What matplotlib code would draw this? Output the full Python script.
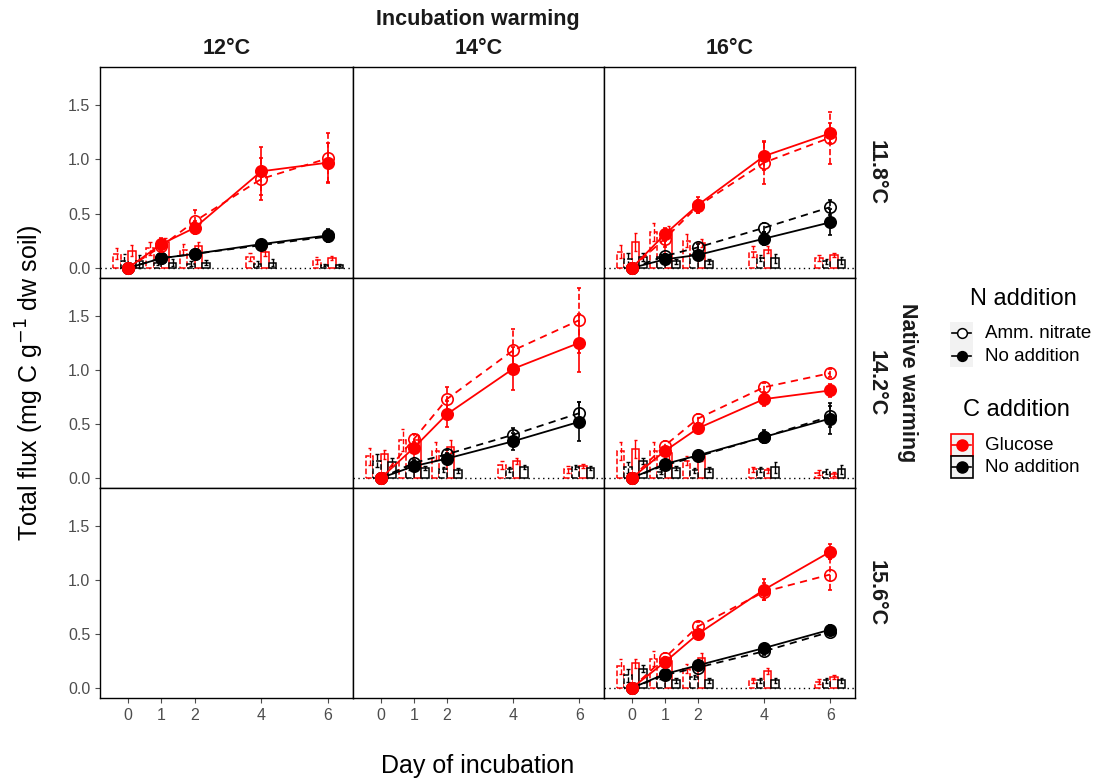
import matplotlib
matplotlib.use("Agg")
import matplotlib.pyplot as plt
from matplotlib.patches import Rectangle

plt.rcParams['font.family'] = ['Liberation Sans', 'DejaVu Sans']

# ---------------- data ----------------
days = [0, 1, 2, 4, 6]
day_labels = ["0", "1", "2", "4", "6"]
incubation = ["12°C", "14°C", "16°C"]
native = ["11.8°C", "14.2°C", "15.6°C"]
series_names = ["Glucose + Amm. nitrate", "Glucose", "Amm. nitrate", "No addition"]

# cumulative flux, order: [Glucose+N, Glucose, N only, control]
r0c0_mean = [[0, 0.20, 0.43, 0.82, 1.01], [0, 0.22, 0.37, 0.89, 0.97],
             [0, 0.09, 0.13, 0.21, 0.29], [0, 0.09, 0.13, 0.22, 0.30]]
r0c0_err = [[0.02, 0.05, 0.10, 0.19, 0.23], [0.02, 0.06, 0.06, 0.22, 0.18],
            [0.01, 0.02, 0.02, 0.03, 0.05], [0.01, 0.02, 0.02, 0.04, 0.06]]
r0c0_bar = [[0.13, 0.18, 0.17, 0.10, 0.07], [0.16, 0.24, 0.20, 0.15, 0.09],
            [0.06, 0.05, 0.04, 0.04, 0.03], [0.06, 0.05, 0.05, 0.05, 0.03]]
r0c0_barerr = [[0.05, 0.06, 0.05, 0.04, 0.03], [0.05, 0.04, 0.04, 0.04, 0.02],
               [0.07, 0.02, 0.02, 0.02, 0.01], [0.06, 0.03, 0.02, 0.03, 0.01]]

r0c2_mean = [[0, 0.27, 0.57, 0.97, 1.20], [0, 0.31, 0.58, 1.03, 1.24],
             [0, 0.11, 0.19, 0.37, 0.56], [0, 0.08, 0.12, 0.27, 0.42]]
r0c2_err = [[0.02, 0.08, 0.06, 0.20, 0.24], [0.02, 0.06, 0.07, 0.13, 0.09],
            [0.01, 0.02, 0.03, 0.04, 0.07], [0.01, 0.02, 0.02, 0.06, 0.12]]
r0c2_bar = [[0.15, 0.33, 0.25, 0.15, 0.09], [0.24, 0.35, 0.23, 0.17, 0.12],
            [0.08, 0.10, 0.12, 0.09, 0.06], [0.10, 0.06, 0.06, 0.09, 0.07]]
r0c2_barerr = [[0.06, 0.08, 0.06, 0.05, 0.03], [0.08, 0.04, 0.04, 0.03, 0.02],
               [0.06, 0.03, 0.03, 0.03, 0.02], [0.04, 0.02, 0.02, 0.04, 0.03]]

r1c1_mean = [[0, 0.36, 0.73, 1.18, 1.46], [0, 0.28, 0.59, 1.01, 1.25],
             [0, 0.14, 0.22, 0.40, 0.60], [0, 0.11, 0.18, 0.34, 0.52]]
r1c1_err = [[0.02, 0.05, 0.11, 0.20, 0.30], [0.02, 0.05, 0.12, 0.20, 0.27],
            [0.01, 0.03, 0.04, 0.06, 0.10], [0.01, 0.03, 0.05, 0.08, 0.18]]
r1c1_bar = [[0.20, 0.35, 0.25, 0.12, 0.08], [0.22, 0.35, 0.29, 0.16, 0.11],
            [0.16, 0.10, 0.08, 0.08, 0.10], [0.15, 0.09, 0.07, 0.10, 0.09]]
r1c1_barerr = [[0.08, 0.10, 0.08, 0.04, 0.03], [0.04, 0.05, 0.06, 0.03, 0.02],
               [0.06, 0.03, 0.02, 0.02, 0.02], [0.04, 0.02, 0.02, 0.02, 0.02]]

r1c2_mean = [[0, 0.30, 0.55, 0.84, 0.97], [0, 0.25, 0.46, 0.73, 0.81],
             [0, 0.12, 0.20, 0.38, 0.57], [0, 0.13, 0.21, 0.38, 0.55]]
r1c2_err = [[0.02, 0.04, 0.04, 0.04, 0.04], [0.02, 0.04, 0.03, 0.06, 0.06],
            [0.01, 0.02, 0.02, 0.05, 0.10], [0.01, 0.02, 0.02, 0.06, 0.14]]
r1c2_bar = [[0.25, 0.25, 0.16, 0.08, 0.05], [0.27, 0.23, 0.20, 0.07, 0.04],
            [0.10, 0.06, 0.07, 0.08, 0.06], [0.16, 0.09, 0.08, 0.10, 0.08]]
r1c2_barerr = [[0.08, 0.08, 0.04, 0.02, 0.02], [0.08, 0.06, 0.04, 0.02, 0.02],
               [0.05, 0.02, 0.02, 0.02, 0.02], [0.03, 0.02, 0.02, 0.05, 0.04]]

r2c2_mean = [[0, 0.28, 0.57, 0.89, 1.05], [0, 0.24, 0.50, 0.91, 1.26],
             [0, 0.12, 0.19, 0.34, 0.52], [0, 0.13, 0.21, 0.37, 0.54]]
r2c2_err = [[0.02, 0.04, 0.04, 0.08, 0.14], [0.02, 0.05, 0.04, 0.10, 0.07],
            [0.01, 0.02, 0.02, 0.03, 0.03], [0.01, 0.02, 0.02, 0.03, 0.04]]
r2c2_bar = [[0.20, 0.27, 0.18, 0.07, 0.06], [0.23, 0.25, 0.28, 0.16, 0.10],
            [0.12, 0.10, 0.10, 0.07, 0.07], [0.18, 0.07, 0.07, 0.07, 0.07]]
r2c2_barerr = [[0.07, 0.07, 0.04, 0.02, 0.02], [0.04, 0.04, 0.04, 0.03, 0.02],
               [0.06, 0.02, 0.02, 0.02, 0.02], [0.03, 0.02, 0.02, 0.02, 0.02]]

panels = {
    (0, 0): (r0c0_mean, r0c0_err, r0c0_bar, r0c0_barerr),
    (0, 2): (r0c2_mean, r0c2_err, r0c2_bar, r0c2_barerr),
    (1, 1): (r1c1_mean, r1c1_err, r1c1_bar, r1c1_barerr),
    (1, 2): (r1c2_mean, r1c2_err, r1c2_bar, r1c2_barerr),
    (2, 2): (r2c2_mean, r2c2_err, r2c2_bar, r2c2_barerr),
}

# ---------------- styles ----------------
colors = ["#FF0000", "#FF0000", "#000000", "#000000"]
styles = ["--", "-", "--", "-"]
filled = [False, True, False, True]
dodge = [-0.3375, 0.1125, -0.1125, 0.3375]
bar_w = 0.225

W, H = 1097, 784
fig = plt.figure(figsize=(W / 100, H / 100), dpi=100)

col_x = [100, 353, 604, 855]
row_y = [67, 278, 488, 698]
tick_gray = "#4D4D4D"
strip_col = "#1A1A1A"

for r in range(3):
    for c in range(3):
        x0, x1 = col_x[c], col_x[c + 1]
        y0, y1 = row_y[r], row_y[r + 1]
        ax = fig.add_axes([x0 / W, 1 - y1 / H, (x1 - x0) / W, (y1 - y0) / H])
        ax.set_xlim(-0.84, 6.75)
        ax.set_ylim(-0.092, 1.85)
        ax.set_xticks(days)
        ax.set_yticks([0, 0.5, 1.0, 1.5])
        for sp in ax.spines.values():
            sp.set_color("black")
            sp.set_linewidth(1.0)
        ax.tick_params(colors=tick_gray, length=3.5, width=0.8, labelsize=11.5,
                       labelcolor=tick_gray)
        if c == 0:
            ax.set_yticklabels(["0.0", "0.5", "1.0", "1.5"])
        else:
            ax.tick_params(axis="y", left=False, labelleft=False)
        if r == 2:
            ax.set_xticklabels(day_labels)
        else:
            ax.tick_params(axis="x", bottom=False, labelbottom=False)
        if (r, c) in panels:
            mean, err, bar, barerr = panels[(r, c)]
            ax.axhline(0, color="black", linestyle=(0, (1, 2.5)), linewidth=1.0, zorder=1)
            # small bars
            for s in range(4):
                xs = [d + dodge[s] for d in days]
                ax.bar(xs, bar[s], width=bar_w, facecolor="white", edgecolor=colors[s],
                       linewidth=1.1, linestyle=styles[s], zorder=2)
                ax.vlines(xs, [b - e for b, e in zip(bar[s], barerr[s])],
                          [b + e for b, e in zip(bar[s], barerr[s])],
                          colors=colors[s], linestyles=styles[s], linewidth=1.0, zorder=2)
                for xx, b, e in zip(xs, bar[s], barerr[s]):
                    ax.hlines([b - e, b + e], xx - 0.05, xx + 0.05, colors=colors[s],
                              linewidth=1.0, zorder=2)
            # lines, points, error bars
            for s in [2, 3, 0, 1]:
                lo = [m - e for m, e in zip(mean[s], err[s])]
                hi = [m + e for m, e in zip(mean[s], err[s])]
                ax.vlines(days, lo, hi, colors=colors[s], linestyles=styles[s],
                          linewidth=1.2, zorder=3)
                ax.hlines(lo + hi, [d - 0.06 for d in days] * 2, [d + 0.06 for d in days] * 2,
                          colors=colors[s], linewidth=1.2, zorder=3)
                ax.plot(days, mean[s], color=colors[s], linestyle=styles[s],
                        dashes=(4, 3) if styles[s] == "--" else (None, None),
                        linewidth=1.3, zorder=4,
                        marker="o", markersize=8.2,
                        markerfacecolor=colors[s] if filled[s] else "none",
                        markeredgecolor=colors[s], markeredgewidth=1.2)

# strip texts
for c in range(3):
    fig.text((col_x[c] + col_x[c + 1]) / 2 / W, 1 - 48 / H, incubation[c],
             ha="center", va="center", fontsize=15.5, fontweight="bold", color=strip_col)
fig.text((col_x[0] + col_x[3]) / 2 / W, 1 - 20 / H, "Incubation warming",
         ha="center", va="center", fontsize=15.5, fontweight="bold", color=strip_col)
for r in range(3):
    fig.text(876 / W, 1 - (row_y[r] + row_y[r + 1]) / 2 / H, native[r], rotation=-90,
             ha="center", va="center", fontsize=15.5, fontweight="bold", color=strip_col)
fig.text(908 / W, 1 - (row_y[0] + row_y[3]) / 2 / H, "Native warming", rotation=-90,
         ha="center", va="center", fontsize=15.5, fontweight="bold", color=strip_col)

# axis titles
fig.text(30 / W, 1 - (row_y[0] + row_y[3]) / 2 / H,
         "Total flux (mg C g$^{-1}$ dw soil)", rotation=90,
         ha="center", va="center", fontsize=18)
fig.text((col_x[0] + col_x[3]) / 2 / W, 1 - 766 / H, "Day of incubation",
         ha="center", va="center", fontsize=18)

# legend drawn in a pixel-space overlay axes
lax = fig.add_axes([0, 0, 1, 1])
lax.set_xlim(0, W)
lax.set_ylim(H, 0)
lax.axis("off")
lax.text(970, 299, "N addition", fontsize=17, va="center", ha="left")
lax.add_patch(Rectangle((950, 322), 23, 45, facecolor="#F2F2F2", edgecolor="none"))
for yy, fill, lab in [(333, False, "Amm. nitrate"), (356, True, "No addition")]:
    lax.plot([952, 971], [yy, yy], color="black", linewidth=1.2)
    lax.plot([961.5], [yy], marker="o", markersize=7,
             markerfacecolor="black" if fill else "white", markeredgecolor="black",
             markeredgewidth=1.1)
    lax.text(985, yy, lab, fontsize=13.5, va="center", ha="left")
lax.text(963, 410, "C addition", fontsize=17, va="center", ha="left")
for yy, col, lab in [(445, "#FF0000", "Glucose"), (467, "black", "No addition")]:
    lax.add_patch(Rectangle((950.5, yy - 11), 22, 22, facecolor="#F2F2F2",
                            edgecolor=col, linewidth=1.2))
    lax.plot([952, 971], [yy, yy], color=col, linewidth=1.2)
    lax.plot([961.5], [yy], marker="o", markersize=8, color=col)
    lax.text(985, yy, lab, fontsize=13.5, va="center", ha="left")

fig.savefig("out.png", dpi=100, facecolor="white")
